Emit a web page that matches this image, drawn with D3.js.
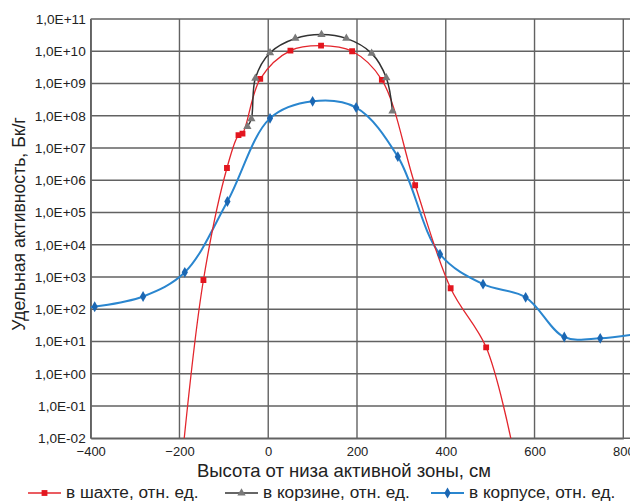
<!DOCTYPE html>
<html>
<head>
<meta charset="utf-8">
<script src="https://cdn.jsdelivr.net/npm/d3@7"></script>
<style>
  html, body { margin: 0; padding: 0; background: #fff; }
  svg { display: block; font-family: "Liberation Sans", Arial, sans-serif; }
</style>
</head>
<body>
<svg id="chart" width="630" height="502"></svg>
<script>
// Удельная активность по высоте (x — см от низа активной зоны, y — Бк/г)
const yTickLabels = ["1,0E-02","1,0E-01","1,0E+00","1,0E+01","1,0E+02","1,0E+03","1,0E+04",
  "1,0E+05","1,0E+06","1,0E+07","1,0E+08","1,0E+09","1,0E+10","1,0E+11"];
const xTicks = [-400, -200, 0, 200, 400, 600, 800];

// в шахте
const shaftX = [-190, -146, -93, -67, -58, -18, 50, 119, 189, 256, 331, 411, 491, 548];
const shaftY = [0.008, 810, 2.4e6, 2.5e7, 2.8e7, 1.4e9, 1.05e10, 1.5e10, 1.0e10, 1.3e9, 7e5, 450, 6.6, 0.008];
// в корзине
const basketX = [-47, -38, -29, 4, 61, 120, 176, 233, 266, 280];
const basketY = [4.6e7, 8.0e7, 1.45e9, 9.0e9, 2.5e10, 3.3e10, 2.5e10, 8.6e9, 1.5e9, 1.4e8];
// в корпусе
const vesselX = [-430, -391, -282, -188, -92, 4, 100, 198, 292, 387, 484, 580, 667, 748, 840];
const vesselY = [105, 120, 250, 1400, 2.2e5, 8.3e7, 2.8e8, 1.8e8, 5.4e6, 5100, 600, 235, 13.8, 12.6, 18];

const seriesNames = ["в шахте, отн. ед.", "в корзине, отн. ед.", "в корпусе, отн. ед."];

const svg = d3.select("#chart");
const pLeft = 90.7, pRight = 623.3, pTop = 19, pBottom = 438.3;
const gridColor = "#626262";

const x = d3.scaleLinear().domain([-400, 800]).range([pLeft, pRight]);
const y = d3.scaleLog().domain([1e-2, 1e11]).range([pBottom, pTop]);

const yTickVals = yTickLabels.map((_, i) => Math.pow(10, i - 2));

// сетка
const grid = svg.append("g").attr("stroke", gridColor).attr("stroke-width", 1.4);
grid.selectAll(".h").data(yTickVals).join("line")
  .attr("x1", pLeft).attr("x2", 630)
  .attr("y1", d => y(d)).attr("y2", d => y(d));
grid.selectAll(".v").data(xTicks).join("line")
  .attr("x1", d => x(d)).attr("x2", d => x(d))
  .attr("y1", pTop).attr("y2", pBottom);

// оси с подписями
const yAxis = d3.axisLeft(y).tickValues(yTickVals)
  .tickFormat((d, i) => yTickLabels[i]).tickSize(0).tickPadding(5);
const gy = svg.append("g").attr("transform", `translate(${pLeft},0)`).call(yAxis);
gy.select(".domain").attr("stroke", gridColor).attr("stroke-width", 1.4);
gy.selectAll("text").attr("font-size", 13.6).attr("fill", "#222")
  .attr("font-family", "Liberation Sans, Arial, sans-serif");

const xAxis = d3.axisBottom(x).tickValues(xTicks).tickFormat(d3.format("d")).tickSize(0).tickPadding(8);
const gx = svg.append("g").attr("transform", `translate(0,${pBottom})`).call(xAxis);
gx.select(".domain").attr("stroke", gridColor).attr("stroke-width", 1.4);
gx.selectAll("text").attr("font-size", 13).attr("fill", "#222")
  .attr("font-family", "Liberation Sans, Arial, sans-serif");

// заголовки осей
svg.append("text").attr("x", 344).attr("y", 477).attr("text-anchor", "middle")
  .attr("font-size", 18.5).attr("fill", "#222").text("Высота от низа активной зоны, см");
svg.append("text").attr("transform", "translate(25,224) rotate(-90)")
  .attr("text-anchor", "middle").attr("font-size", 17.6).attr("fill", "#222")
  .text("Удельная активность, Бк/г");

// область построения
svg.append("defs").append("clipPath").attr("id", "plot")
  .append("rect").attr("x", pLeft).attr("y", pTop - 6).attr("width", 630 - pLeft).attr("height", pBottom - pTop + 6);

const line = d3.line().x(d => x(d[0])).y(d => y(d[1])).curve(d3.curveCatmullRom.alpha(0.5));
const plot = svg.append("g").attr("clip-path", "url(#plot)");

const shaft = d3.zip(shaftX, shaftY);
const basket = d3.zip(basketX, basketY);
const vessel = d3.zip(vesselX, vesselY);

plot.append("path").datum(vessel).attr("d", line)
  .attr("fill", "none").attr("stroke", "#2a86cf").attr("stroke-width", 2);
plot.append("path").datum(shaft).attr("d", line)
  .attr("fill", "none").attr("stroke", "#e3262d").attr("stroke-width", 1.3);
plot.append("path").datum(basket).attr("d", line)
  .attr("fill", "none").attr("stroke", "#333").attr("stroke-width", 1.5);

const sq = d3.symbol().type(d3.symbolSquare).size(34);
const tri = d3.symbol().type(d3.symbolTriangle).size(30);
const dia = d3.symbol().type(d3.symbolDiamond).size(34);

plot.selectAll(".m-v").data(vessel).join("path")
  .attr("d", dia).attr("fill", "#1b67b3")
  .attr("transform", d => `translate(${x(d[0])},${y(d[1])})`);
plot.selectAll(".m-s").data(shaft).join("path")
  .attr("d", sq).attr("fill", "#e3161f")
  .attr("transform", d => `translate(${x(d[0])},${y(d[1])})`);
plot.selectAll(".m-b").data(basket).join("path")
  .attr("d", tri).attr("fill", "#7a7a7a")
  .attr("transform", d => `translate(${x(d[0])},${y(d[1])})`);

// легенда
const legend = [
  { x: 28, color: "#e3262d", mcolor: "#e3161f", sym: sq, w: 1.5 },
  { x: 225, color: "#333", mcolor: "#7a7a7a", sym: tri, w: 1.5 },
  { x: 431, color: "#2a86cf", mcolor: "#1b67b3", sym: dia, w: 2 }
];
const lg = svg.append("g");
legend.forEach((d, i) => {
  lg.append("line").attr("x1", d.x).attr("x2", d.x + 33).attr("y1", 493).attr("y2", 493)
    .attr("stroke", d.color).attr("stroke-width", d.w);
  lg.append("path").attr("d", d.sym).attr("fill", d.mcolor)
    .attr("transform", `translate(${d.x + 16.5},493)`);
  lg.append("text").attr("x", d.x + 38).attr("y", 497.5).attr("font-size", 17.2).attr("fill", "#222")
    .text(seriesNames[i]);
});
</script>
</body>
</html>
